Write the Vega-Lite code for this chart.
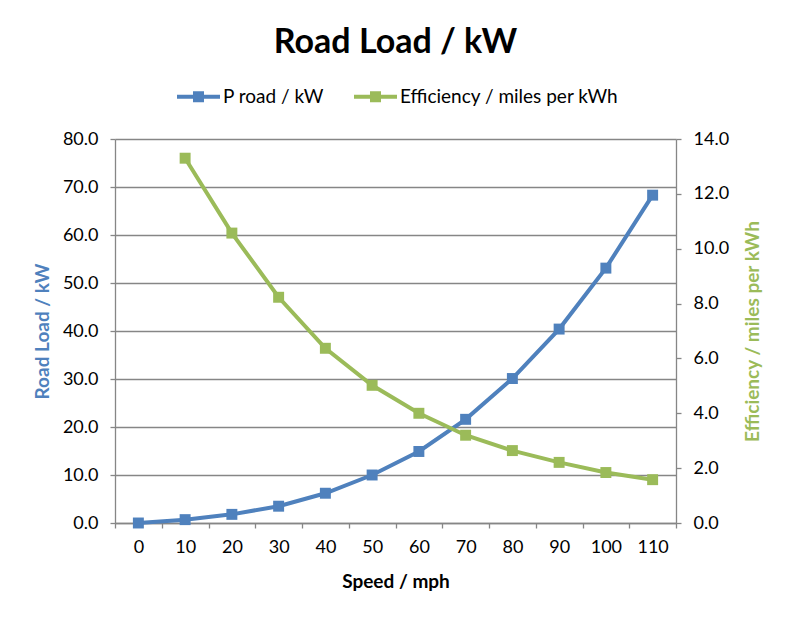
{
  "$schema": "https://vega.github.io/schema/vega-lite/v6.json",
  "width": 561,
  "height": 384,
  "autosize": {"type": "none"},
  "padding": {"left": 115, "top": 139, "right": 115, "bottom": 98},
  "background": "white",
  "title": {"text": "Road Load / kW", "fontSize": 34, "fontWeight": "bold", "font": "Lato", "color": "black", "anchor": "middle", "baseline": "alphabetic", "offset": -12},
  "data": {"values": [
    {"speed": 0, "series": "P road / kW", "value": 0},
    {"speed": 10, "series": "P road / kW", "value": 0.7},
    {"speed": 20, "series": "P road / kW", "value": 1.8},
    {"speed": 30, "series": "P road / kW", "value": 3.5},
    {"speed": 40, "series": "P road / kW", "value": 6.2},
    {"speed": 50, "series": "P road / kW", "value": 10.0},
    {"speed": 60, "series": "P road / kW", "value": 14.9},
    {"speed": 70, "series": "P road / kW", "value": 21.6},
    {"speed": 80, "series": "P road / kW", "value": 30.1},
    {"speed": 90, "series": "P road / kW", "value": 40.4},
    {"speed": 100, "series": "P road / kW", "value": 53.1},
    {"speed": 110, "series": "P road / kW", "value": 68.3},
    {"speed": 10, "series": "Efficiency / miles per kWh", "value": 13.3},
    {"speed": 20, "series": "Efficiency / miles per kWh", "value": 10.57},
    {"speed": 30, "series": "Efficiency / miles per kWh", "value": 8.23},
    {"speed": 40, "series": "Efficiency / miles per kWh", "value": 6.37},
    {"speed": 50, "series": "Efficiency / miles per kWh", "value": 5.02},
    {"speed": 60, "series": "Efficiency / miles per kWh", "value": 4.0},
    {"speed": 70, "series": "Efficiency / miles per kWh", "value": 3.2},
    {"speed": 80, "series": "Efficiency / miles per kWh", "value": 2.64},
    {"speed": 90, "series": "Efficiency / miles per kWh", "value": 2.21},
    {"speed": 100, "series": "Efficiency / miles per kWh", "value": 1.84},
    {"speed": 110, "series": "Efficiency / miles per kWh", "value": 1.58}
  ]},
  "encoding": {
    "x": {
      "field": "speed", "type": "ordinal",
      "scale": {"type": "band", "paddingInner": 0, "paddingOuter": 0},
      "axis": {"title": "Speed / mph", "labelAngle": 0, "tickBand": "extent", "grid": false, "titleY": 58, "titleBaseline": "middle", "labelPadding": 10}
    },
    "color": {
      "field": "series", "type": "nominal",
      "scale": {"domain": ["P road / kW", "Efficiency / miles per kWh"], "range": ["#4F81BD", "#9BBB59"]}
    }
  },
  "layer": [
    {
      "transform": [{"filter": "datum.series === 'P road / kW'"}],
      "encoding": {
        "y": {
          "field": "value", "type": "quantitative",
          "scale": {"domain": [0, 80], "nice": false},
          "axis": {"title": "Road Load / kW", "titleColor": "#4F81BD", "values": [0, 10, 20, 30, 40, 50, 60, 70, 80], "format": ".1f", "grid": true, "titleX": -73, "titleY": 192, "titleAngle": 270, "titleBaseline": "middle", "titleAlign": "center", "labelPadding": 12}
        }
      },
      "layer": [
        {"mark": {"type": "line", "strokeWidth": 4}},
        {"mark": {"type": "point", "shape": "square", "filled": true, "size": 120, "opacity": 1}}
      ]
    },
    {
      "transform": [{"filter": "datum.series === 'Efficiency / miles per kWh'"}],
      "encoding": {
        "y": {
          "field": "value", "type": "quantitative",
          "scale": {"domain": [0, 14], "nice": false},
          "axis": {"orient": "right", "title": "Efficiency / miles per kWh", "titleColor": "#9BBB59", "values": [0, 2, 4, 6, 8, 10, 12, 14], "format": ".1f", "grid": false, "titleX": 76, "titleY": 192, "titleAngle": 270, "titleBaseline": "middle", "titleAlign": "center", "labelPadding": 12}
        }
      },
      "layer": [
        {"mark": {"type": "line", "strokeWidth": 4}},
        {"mark": {"type": "point", "shape": "square", "filled": true, "size": 120, "opacity": 1}}
      ]
    }
  ],
  "resolve": {"scale": {"y": "independent"}},
  "config": {
    "font": "Lato",
    "view": {"stroke": null},
    "axis": {
      "labelFont": "Lato", "labelFontSize": 18, "labelColor": "black",
      "titleFont": "Lato", "titleFontSize": 19, "titleFontWeight": "bold", "titleColor": "black",
      "domainColor": "#868686", "domainWidth": 1.3, "tickColor": "#868686", "tickWidth": 1.3, "tickSize": 5,
      "gridColor": "#868686", "gridWidth": 1.3
    },
    "legend": {
      "orient": "none", "legendX": 62, "legendY": -64, "direction": "horizontal", "title": null,
      "labelFont": "Lato", "labelFontSize": 19, "labelColor": "black", "labelOffset": 3, "labelLimit": 400,
      "symbolType": "M-1,-0.093H1V0.093H-1Z M-0.256,-0.256H0.256V0.256H-0.256Z",
      "symbolSize": 1849, "symbolStrokeWidth": 0, "symbolOpacity": 1, "columnPadding": 30
    }
  }
}
